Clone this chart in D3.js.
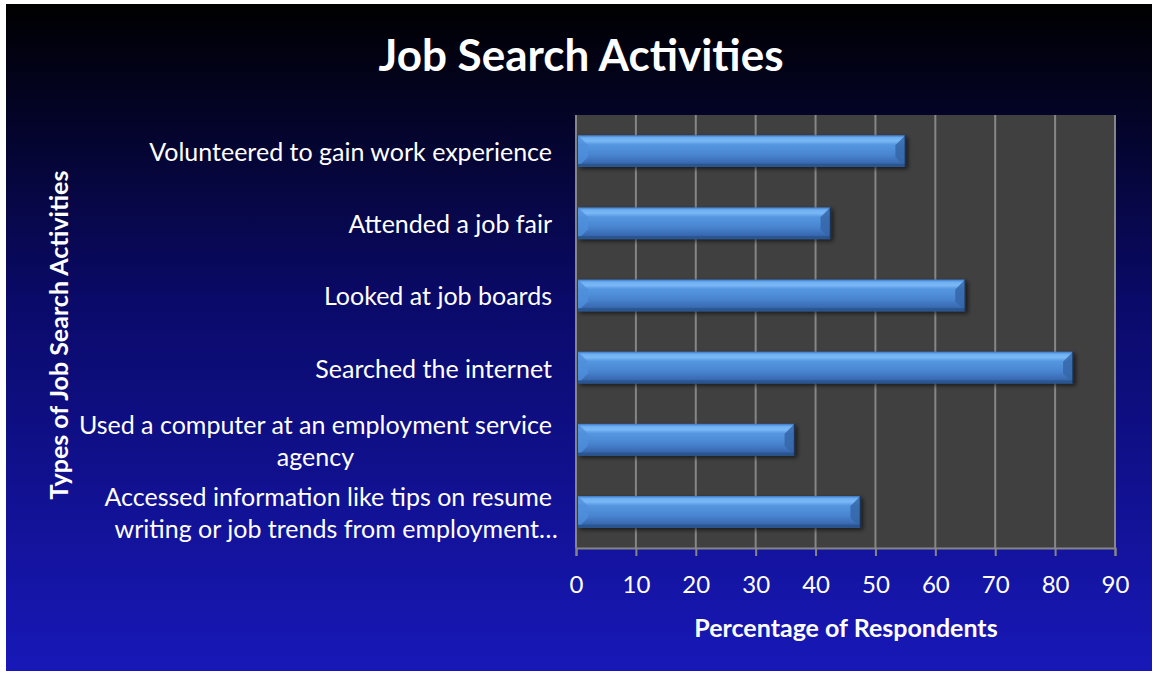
<!DOCTYPE html>
<html><head><meta charset="utf-8">
<script src="https://cdn.jsdelivr.net/npm/d3@7"></script>
<style>body{margin:0;background:#fff}svg{display:block}</style>
</head><body>
<script>
const categories = [
  ["Volunteered to gain work experience"],
  ["Attended a job fair"],
  ["Looked at job boards"],
  ["Searched the internet"],
  ["Used a computer at an employment service", "agency"],
  ["Accessed information like tips on resume", "writing or job trends from employment…"]
];
const values = [55, 42.5, 65, 83, 36.5, 47.5];
const xTicks = [0,10,20,30,40,50,60,70,80,90];
const title = "Job Search Activities";
const xTitle = "Percentage of Respondents";
const yTitle = "Types of Job Search Activities";

const W = 1153, H = 675;
const font = "Lato, 'Open Sans', sans-serif";
const svg = d3.select("body").append("svg").attr("width", W).attr("height", H);
const defs = svg.append("defs");
const bg = defs.append("linearGradient").attr("id","bg").attr("x1",0).attr("y1",0).attr("x2",0).attr("y2",1);
bg.append("stop").attr("offset","0%").attr("stop-color","#000000");
bg.append("stop").attr("offset","45%").attr("stop-color","#0a0a6a");
bg.append("stop").attr("offset","100%").attr("stop-color","#1818b8");
const bar = defs.append("linearGradient").attr("id","bar").attr("x1",0).attr("y1",0).attr("x2",0).attr("y2",1);
[["0%","#3c78c8"],["8%","#6fb0f2"],["18%","#7ab8f6"],["30%","#5596e0"],["60%","#4a86d2"],["85%","#3a6cb4"],["100%","#2a5596"]]
  .forEach(([o,c])=>bar.append("stop").attr("offset",o).attr("stop-color",c));
const sh = defs.append("filter").attr("id","sh").attr("x","-5%").attr("y","-30%").attr("width","115%").attr("height","180%");
sh.append("feGaussianBlur").attr("in","SourceAlpha").attr("stdDeviation",2);
sh.append("feOffset").attr("dx",2).attr("dy",2).attr("result","b");
sh.append("feComponentTransfer").append("feFuncA").attr("type","linear").attr("slope",0.6);
const mg = sh.append("feMerge"); mg.append("feMergeNode"); mg.append("feMergeNode").attr("in","SourceGraphic");

svg.append("rect").attr("x",6).attr("y",4).attr("width",1146).attr("height",667).attr("fill","url(#bg)");

const m = {left:576, right:1115, top:115, bottom:548};
const x = d3.scaleLinear().domain([0,90]).range([m.left, m.right]);
const y = d3.scaleBand().domain(d3.range(categories.length)).range([m.top, m.bottom]).paddingInner(0.56).paddingOuter(0.28);

svg.append("rect").attr("x",m.left).attr("y",m.top).attr("width",m.right-m.left).attr("height",m.bottom-m.top).attr("fill","#404040");

// gridlines
svg.append("g").selectAll("line").data(xTicks.slice(1)).join("line")
  .attr("x1",d=>x(d)).attr("x2",d=>x(d)).attr("y1",m.top).attr("y2",m.bottom)
  .attr("stroke","#868686").attr("stroke-width",2);

// x axis
const xa = svg.append("g").attr("transform",`translate(0,${m.bottom})`)
  .call(d3.axisBottom(x).tickValues(xTicks).tickSize(8).tickPadding(20));
xa.select(".domain").attr("stroke","#868686").attr("stroke-width",2);
xa.selectAll(".tick line").attr("stroke","#868686").attr("stroke-width",2);
xa.selectAll(".tick text").attr("fill","#fff").attr("font-family",font).attr("font-size",24);
// y axis line
svg.append("line").attr("x1",m.left).attr("x2",m.left).attr("y1",m.top).attr("y2",m.bottom).attr("stroke","#868686").attr("stroke-width",2);

// bars
const bh = y.bandwidth();
const bg2 = svg.append("g").selectAll("g").data(values).join("g").attr("filter","url(#sh)");
bg2.append("rect").attr("x",x(0)+2).attr("y",(d,i)=>y(i)).attr("width",d=>x(d)-x(0)-2).attr("height",bh).attr("fill","url(#bar)");
const bev = 10;
bg2.append("path").attr("d",(d,i)=>{const x1=x(d), y0=y(i); return `M${x1},${y0}L${x1-bev},${y0+bev}L${x1-bev},${y0+bh-bev}L${x1},${y0+bh}Z`;})
  .attr("fill","#3566a8").attr("opacity",0.85);
bg2.append("path").attr("d",(d,i)=>{const x0=x(0)+2, y0=y(i); return `M${x0},${y0}L${x0+bev},${y0+bev}L${x0+bev},${y0+bh-bev}L${x0},${y0+bh}Z`;})
  .attr("fill","#4f8fdc").attr("opacity",0.8);
bg2.append("rect").attr("x",x(0)+2).attr("y",(d,i)=>y(i)+bh-3).attr("width",d=>x(d)-x(0)-2).attr("height",3).attr("fill","#2b558f");
bg2.append("line").attr("x1",d=>x(d)).attr("x2",d=>x(d)).attr("y1",(d,i)=>y(i)).attr("y2",(d,i)=>y(i)+bh).attr("stroke","#1a3050").attr("stroke-width",1.5);

// category labels
const lab = svg.append("g");
categories.forEach((lines,i)=>{
  const cy = y(i)+bh/2;
  const lh = 32;
  const g = lab.append("g");
  const texts = lines.map((t,j)=>g.append("text").text(t).attr("fill","#fff").attr("font-family",font).attr("font-size",25)
     .attr("dominant-baseline","central").attr("y", cy + (j-(lines.length-1)/2)*lh));
  const widths = texts.map(t=>t.node().getComputedTextLength());
  const maxW = d3.max(widths);
  const right = 552;
  texts.forEach((t,j)=>t.attr("text-anchor","middle").attr("x", right - maxW/2 + (lines.length>1 && j===1 && i===5 ? 8 : 0)));
});

svg.append("text").text(title).attr("x",581).attr("y",71).attr("text-anchor","middle")
  .attr("fill","#fff").attr("font-family",font).attr("font-weight","bold").attr("font-size",44);
svg.append("text").text(xTitle).attr("x",846).attr("y",637).attr("text-anchor","middle")
  .attr("fill","#fff").attr("font-family",font).attr("font-weight","bold").attr("font-size",25);
svg.append("text").text(yTitle).attr("transform","translate(68,335) rotate(-90)").attr("text-anchor","middle")
  .attr("fill","#fff").attr("font-family",font).attr("font-weight","bold").attr("font-size",25);
</script>
</body></html>
